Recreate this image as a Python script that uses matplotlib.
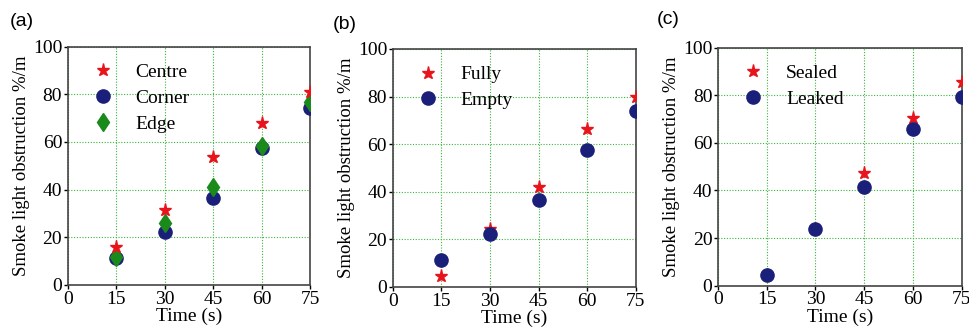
import matplotlib
matplotlib.use("Agg")
import matplotlib.pyplot as plt

# time axis (s)
t = [15, 30, 45, 60, 75]
xticks = [0, 15, 30, 45, 60, 75]
yticks = [0, 20, 40, 60, 80, 100]

# (a) position of detector
centre = [16.0, 31.5, 53.6, 68.0, 80.8]
corner = [11.5, 22.4, 36.6, 57.3, 74.1]
edge = [11.9, 26.2, 41.3, 58.3, 76.9]

# (b) fuel load
fully = [4.5, 24.3, 42.0, 66.3, 80.0]
empty = [11.5, 22.2, 36.6, 57.6, 74.1]

# (c) enclosure
sealed = [4.5, 24.0, 47.5, 70.3, 85.4]
leaked = [4.5, 23.8, 41.6, 65.8, 79.4]

RED = "#e8141c"
BLUE = "#1a1f7a"
GREEN = "#1a8a1a"

plt.rcParams["font.family"] = ["Liberation Serif", "DejaVu Serif"]

fig = plt.figure(figsize=(9.7, 3.31), dpi=100)
boxes = [[0.0698, 0.139, 0.2498, 0.720],
         [0.4048, 0.133, 0.2508, 0.719],
         [0.7402, 0.137, 0.2512, 0.719]]
tags = ["(a)", "(b)", "(c)"]
tagpos = [(0.010, 0.935), (0.343, 0.925), (0.677, 0.942)]


def setup(ax):
    ax.set_xlim(0, 75)
    ax.set_ylim(0, 100)
    ax.set_xticks(xticks)
    ax.set_yticks(yticks)
    ax.grid(True, color="#3cb43c", linestyle=(0, (1, 1.5)), linewidth=0.8)
    ax.set_axisbelow(True)
    ax.tick_params(direction="out", length=3, width=1, labelsize=14, pad=1)
    for s in ax.spines.values():
        s.set_color("#444444")
        s.set_linewidth(1.2)
    ax.set_xlabel("Time (s)", fontsize=14, labelpad=0)
    ax.set_ylabel("Smoke light obstruction %/m", fontsize=13.5, labelpad=2)


def legend(ax, h, l):
    ax.legend(h, l, loc="upper left", frameon=False, fontsize=14,
              handletextpad=0.95, labelspacing=0.42, borderaxespad=0.4,
              handlelength=1.5, bbox_to_anchor=(0.02, 0.995))


axes = [fig.add_axes(b) for b in boxes]
for ax, tag, pos in zip(axes, tags, tagpos):
    setup(ax)
    fig.text(pos[0], pos[1], tag, fontsize=14, family="Liberation Sans",
             ha="left", va="center")

star = dict(marker="*", markersize=9.5, color=RED, linestyle="none")
circ = dict(marker="o", markersize=9.5, color=BLUE, linestyle="none")
diam = dict(marker="d", markersize=9.5, color=GREEN, linestyle="none")

ax = axes[0]
ax.plot(t, corner, label="Corner", zorder=3, **circ)
ax.plot(t, edge, label="Edge", zorder=4, **diam)
ax.plot(t, centre, label="Centre", zorder=5, **star)
h, l = ax.get_legend_handles_labels()
order = [2, 0, 1]
legend(ax, [h[i] for i in order], [l[i] for i in order])

ax = axes[1]
ax.plot(t, fully, label="Fully", zorder=3, **star)
ax.plot(t, empty, label="Empty", zorder=4, **circ)
h, l = ax.get_legend_handles_labels()
legend(ax, h, l)

ax = axes[2]
ax.plot(t, sealed, label="Sealed", zorder=3, **star)
ax.plot(t, leaked, label="Leaked", zorder=4, **circ)
h, l = ax.get_legend_handles_labels()
legend(ax, h, l)

fig.savefig("out.png", dpi=100)
